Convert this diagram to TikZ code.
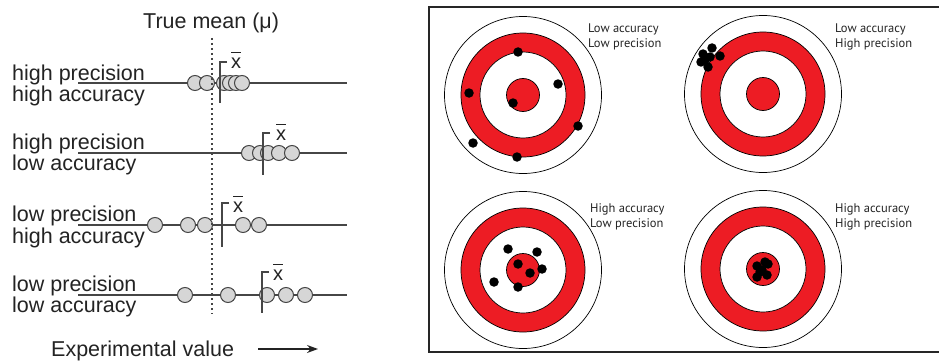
\documentclass[tikz,border=0pt]{standalone}
\usepackage{fontspec}
\setmainfont{Liberation Sans}
\newfontfamily\tgtfont{PT Sans}
\usetikzlibrary{arrows.meta,calc}
\definecolor{tred}{RGB}{237,28,36}
\definecolor{lgray}{RGB}{214,214,214}
\definecolor{dgray}{RGB}{70,70,70}
\definecolor{tgray}{RGB}{35,35,35}
\begin{document}
\begin{tikzpicture}[x=1pt,y=-1pt,
  lbl/.style={anchor=base west, inner sep=0, font=\fontsize{21.5}{24}\selectfont, text=tgray},
  axis/.style={draw=dgray, line width=1.1pt},
  meas/.style={circle, draw=dgray, fill=lgray, line width=1pt, minimum size=15pt, inner sep=0},
  brk/.style={draw=dgray, line width=1.2pt},
  xbar/.style={inner sep=0, font=\fontsize{20}{24}\selectfont, text=tgray},
  ring/.style={circle, draw=black, line width=0.7pt, inner sep=0},
  hit/.style={circle, fill=black, minimum size=9.5pt, inner sep=0},
  tlbl/.style={anchor=base west, inner sep=0, font=\tgtfont\fontsize{12.5}{14}\selectfont, text=tgray}
]
\useasboundingbox (0,0) rectangle (939,361);

% ---------- left panel ----------
\node[lbl] (tm) at (143,29) {True mean (\char"03BC)};

\node[lbl] (l1a) at (12,80) {high precision};
\node[lbl] (l1b) at (12,101) {high accuracy};
\node[lbl] (l2a) at (12,149) {high precision};
\node[lbl] (l2b) at (12,170) {low accuracy};
\node[lbl] (l3a) at (12,221) {low precision};
\node[lbl] (l3b) at (12,243) {high accuracy};
\node[lbl] (l4a) at (12,291) {low precision};
\node[lbl] (l4b) at (12,312) {low accuracy};

\foreach \r/\y in {1/83,2/153,3/225,4/295}{
  \coordinate (s\r) at (78,\y);
  \coordinate (e\r) at (347,\y);
  \draw[axis] (s\r) -- (e\r);
}

\foreach \x [count=\i] in {195,207,224,230,236,242}
  \node[meas] (c1\i) at (\x,83) {};
\foreach \x [count=\i] in {249,260,268,279,292}
  \node[meas] (c2\i) at (\x,153) {};
\foreach \x [count=\i] in {155,188,205,243,259}
  \node[meas] (c3\i) at (\x,225) {};
\foreach \x [count=\i] in {185,228,267,286,305}
  \node[meas] (c4\i) at (\x,295) {};

% brackets and x-bar labels
\foreach \r/\bx/\bt/\bb/\xx/\xy in {1/220/62/103/236/63, 2/263/133/175/281/135, 3/222/203/247/238/207, 4/262/272/313/278/275}{
  \coordinate (bt\r) at (\bx,\bt);
  \coordinate (bb\r) at (\bx,\bb);
  \coordinate (bk\r) at (\bx+7,\bt);
  \draw[brk] (bk\r) -- (bt\r) -- (bb\r);
  \node[xbar] (xb\r) at (\xx,\xy) {x};
  \draw[draw=tgray, line width=1.1pt] ($(xb\r.north)+(-5,-5)$) -- ($(xb\r.north)+(5,-5)$);
}

% true mean dotted line
\coordinate (mu1) at (212,38);
\coordinate (mu2) at (212,314);
\draw[draw=dgray, line width=1.7pt, dash pattern=on 1.8pt off 3.2pt] (mu1) -- (mu2);

\node[lbl] (ev) at (51,356) {Experimental value};
\coordinate (ea1) at (258,349);
\coordinate (ea2) at (318,349);
\draw[draw=tgray, line width=1.2pt, -{Stealth[length=11pt,width=8pt]}] (ea1) -- (ea2);

% ---------- right panel ----------
\coordinate (pa) at (429,7);
\coordinate (pb) at (945,352);
\draw[line width=1.3pt, draw=black!85] (pa) rectangle (pb);

\foreach \n/\cx/\cy in {tl/523/95, tr/763/94, bl/523/270, br/763/269}{
  \node[ring, fill=white, minimum size=157pt] (\n o) at (\cx,\cy) {};
  \node[ring, fill=tred, minimum size=124pt] (\n r) at (\cx,\cy) {};
  \node[ring, fill=white, minimum size=86pt] (\n w) at (\cx,\cy) {};
  \node[ring, fill=tred, minimum size=33pt] (\n c) at (\cx,\cy) {};
}

\node[tlbl] (ttl1) at (588,33) {Low accuracy};
\node[tlbl] (ttl2) at (588,48) {Low precision};
\node[tlbl] (ttr1) at (835,33) {Low accuracy};
\node[tlbl] (ttr2) at (835,48) {High precision};
\node[tlbl] (tbl1) at (590,212) {High accuracy};
\node[tlbl] (tbl2) at (590,227) {Low precision};
\node[tlbl] (tbr1) at (835,212) {High accuracy};
\node[tlbl] (tbr2) at (835,227) {High precision};

% hits
\foreach \x/\y [count=\i] in {518/52, 558/84, 469/93, 513/103, 578/126, 473/143, 517/157}
  \node[hit] (htl\i) at (\x,\y) {};
\foreach \x/\y [count=\i] in {712/48, 703/54, 710/57, 720/56, 701/62, 708/67, 705/60}
  \node[hit] (htr\i) at (\x,\y) {};
\foreach \x/\y [count=\i] in {508/249, 537/252, 518/264, 542/269, 530/273, 494/282, 518/287}
  \node[hit] (hbl\i) at (\x,\y) {};
\foreach \x/\y [count=\i] in {765/262, 757/266, 762/270, 767/275, 757/277, 760/272, 768/264}
  \node[hit] (hbr\i) at (\x,\y) {};

\end{tikzpicture}
\end{document}
